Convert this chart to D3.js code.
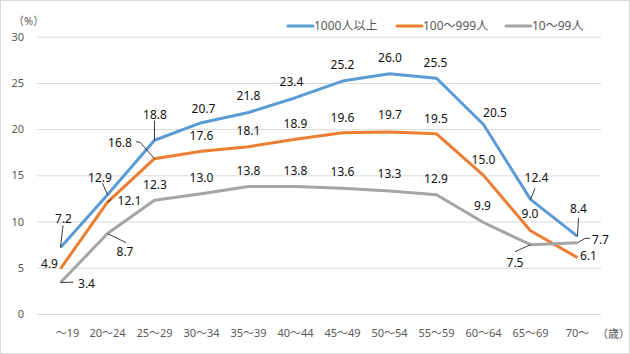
<!DOCTYPE html>
<html lang="ja">
<head>
<meta charset="utf-8" />
<title>年齢階級別 割合</title>
<script src="https://d3js.org/d3.v7.min.js"></script>
<style>
    body { margin: 0; background: #fff; }
    text { font-family: "Noto Sans", "Noto Sans CJK JP", sans-serif; }
</style>
</head>
<body>
<script>
    var w = 630, h = 354;

    // categories (age groups)
    var ages = ["～19", "20～24", "25～29", "30～34", "35～39", "40～44",
                "45～49", "50～54", "55～59", "60～64", "65～69", "70～"];
    var seriesNames = ["1000人以上", "100～999人", "10～99人"];
    var large = [7.2, 12.9, 18.8, 20.7, 21.8, 23.4, 25.2, 26.0, 25.5, 20.5, 12.4, 8.4];
    var medium = [4.9, 12.1, 16.8, 17.6, 18.1, 18.9, 19.6, 19.7, 19.5, 15.0, 9.0, 6.1];
    var small = [3.4, 8.7, 12.3, 13.0, 13.8, 13.8, 13.6, 13.3, 12.9, 9.9, 7.5, 7.7];
    var yTicks = [0, 5, 10, 15, 20, 25, 30];

    var colors = ["#5B9BD5", "#ED7D31", "#A5A5A5"];

    // label placement relative to each point: [dx, dy] and optional leader line points
    var up = [0, -16];
    var largeLabels = [[3, -29], [-7.5, -17.5], [0.5, -25.5], [2, -13.5], [0, -16.5], [-4, -16],
                       [0, -16.7], [0.5, -15.5], [-1, -16], [11.5, -12], [6, -22], [1, -28]];
    var largeLeaders = {0: [[2.5, -22]], 1: [[-5, -11.5]], 2: [[0, -19.6]], 10: [[4.5, -11]], 11: [[1, -18.5]]};
    var mediumLabels = [[-11, -4.7], [22, -1.5], [-34.5, -16], [0, -15.4], up, up,
                        [0, -15.6], [0.5, -17], [-0.5, -15.5], [0, -15.5], [-0.5, -17], [11, -1.5]];
    var mediumLeaders = {1: [[4, -3]], 2: [[-14.5, -16.5], [-18.5, -17]]};
    var smallLabels = [[26, 0.7], [17.5, 18], [0.5, -15.3], up, [0, -15.5], [0, -15.5],
                       [0, -16.5], [0, -17], [-0.5, -16.5], [-1, -16.5], [-15.5, 18], [23, -3]];
    var smallLeaders = {0: [[13, -0.5]], 1: [[18.5, 9]], 10: [[-15.5, 7]], 11: [[7.5, -4.5], [12.5, -4.5]]};

    var series = [
        {name: seriesNames[0], values: large, labels: largeLabels, leaders: largeLeaders, color: colors[0]},
        {name: seriesNames[1], values: medium, labels: mediumLabels, leaders: mediumLeaders, color: colors[1]},
        {name: seriesNames[2], values: small, labels: smallLabels, leaders: smallLeaders, color: colors[2]}
    ];

    var xScale = d3.scaleBand().domain(ages).range([37, 601]);
    var yScale = d3.scaleLinear().domain([0, 30]).range([314, 36.7]);
    function px(i) { return xScale(ages[i]) + xScale.bandwidth() / 2; }

    var svg = d3.select("body").append("svg")
        .attr("width", w)
        .attr("height", h);

    // chart border
    svg.append("rect")
        .attr("x", 0.5).attr("y", 0.5)
        .attr("width", w - 1).attr("height", h - 1)
        .attr("fill", "#fff").attr("stroke", "#D9D9D9");

    // gridlines + y axis labels
    var yAxis = d3.axisLeft(yScale)
        .tickValues(yTicks)
        .tickSize(-(601 - 37))
        .tickPadding(13);
    var gy = svg.append("g")
        .attr("transform", "translate(37,0)")
        .call(yAxis);
    gy.select(".domain").remove();
    gy.selectAll("line").attr("stroke", "#D9D9D9");
    gy.selectAll("text").attr("fill", "#595959").attr("font-size", "11px")
        .style("font-family", "'Noto Sans', 'Noto Sans CJK JP', sans-serif");

    // x axis labels
    var xAxis = d3.axisBottom(xScale).tickSize(0).tickPadding(15);
    var gx = svg.append("g")
        .attr("transform", "translate(0,314)")
        .call(xAxis);
    gx.select(".domain").remove();
    gx.selectAll("text").attr("fill", "#595959").attr("font-size", "11px")
        .style("font-family", "'Noto Sans', 'Noto Sans CJK JP', sans-serif")
        .attr("dx", function (d, i) { return i === 0 ? 7 : 0; });

    svg.append("text")
        .attr("x", 597).attr("y", 338)
        .attr("font-size", "11px").attr("fill", "#595959")
        .text("（歳）");

    svg.append("text")
        .attr("x", 13).attr("y", 25)
        .attr("font-size", "11px").attr("fill", "#595959")
        .text("（%）");

    // lines
    var line = d3.line()
        .x(function (d, i) { return px(i); })
        .y(function (d) { return yScale(d); });

    series.forEach(function (s) {
        svg.append("path")
            .datum(s.values)
            .attr("d", line)
            .attr("fill", "none")
            .attr("stroke", s.color)
            .attr("stroke-width", 3)
            .attr("stroke-linejoin", "round");
    });

    // leader lines and data labels
    series.forEach(function (s) {
        Object.keys(s.leaders).forEach(function (k) {
            var i = +k;
            var x0 = px(i), y0 = yScale(s.values[i]);
            var pts = [[x0, y0]].concat(s.leaders[k].map(function (o) { return [x0 + o[0], y0 + o[1]]; }));
            svg.append("path")
                .attr("d", d3.line()(pts))
                .attr("fill", "none")
                .attr("stroke", "#262626")
                .attr("stroke-width", 0.9);
        });

        svg.append("g").selectAll("text")
            .data(s.values)
            .enter()
            .append("text")
            .attr("x", function (d, i) { return px(i) + s.labels[i][0]; })
            .attr("y", function (d, i) { return yScale(d) + s.labels[i][1]; })
            .attr("dy", "0.36em")
            .attr("text-anchor", "middle")
            .attr("font-size", "12px")
            .attr("fill", "#111")
            .text(function (d) { return d.toFixed(1); });
    });

    // legend
    var legendX = [288, 397, 506];
    var legend = svg.append("g").selectAll("g")
        .data(series)
        .enter()
        .append("g")
        .attr("transform", function (d, i) { return "translate(" + legendX[i] + ",26)"; });
    legend.append("line")
        .attr("x1", 0).attr("x2", 25)
        .attr("stroke", function (d) { return d.color; })
        .attr("stroke-width", 3)
        .attr("stroke-linecap", "round");
    legend.append("text")
        .attr("x", 26).attr("dy", "0.36em")
        .attr("font-size", "12px")
        .attr("fill", "#595959")
        .text(function (d) { return d.name; });
</script>
</body>
</html>
